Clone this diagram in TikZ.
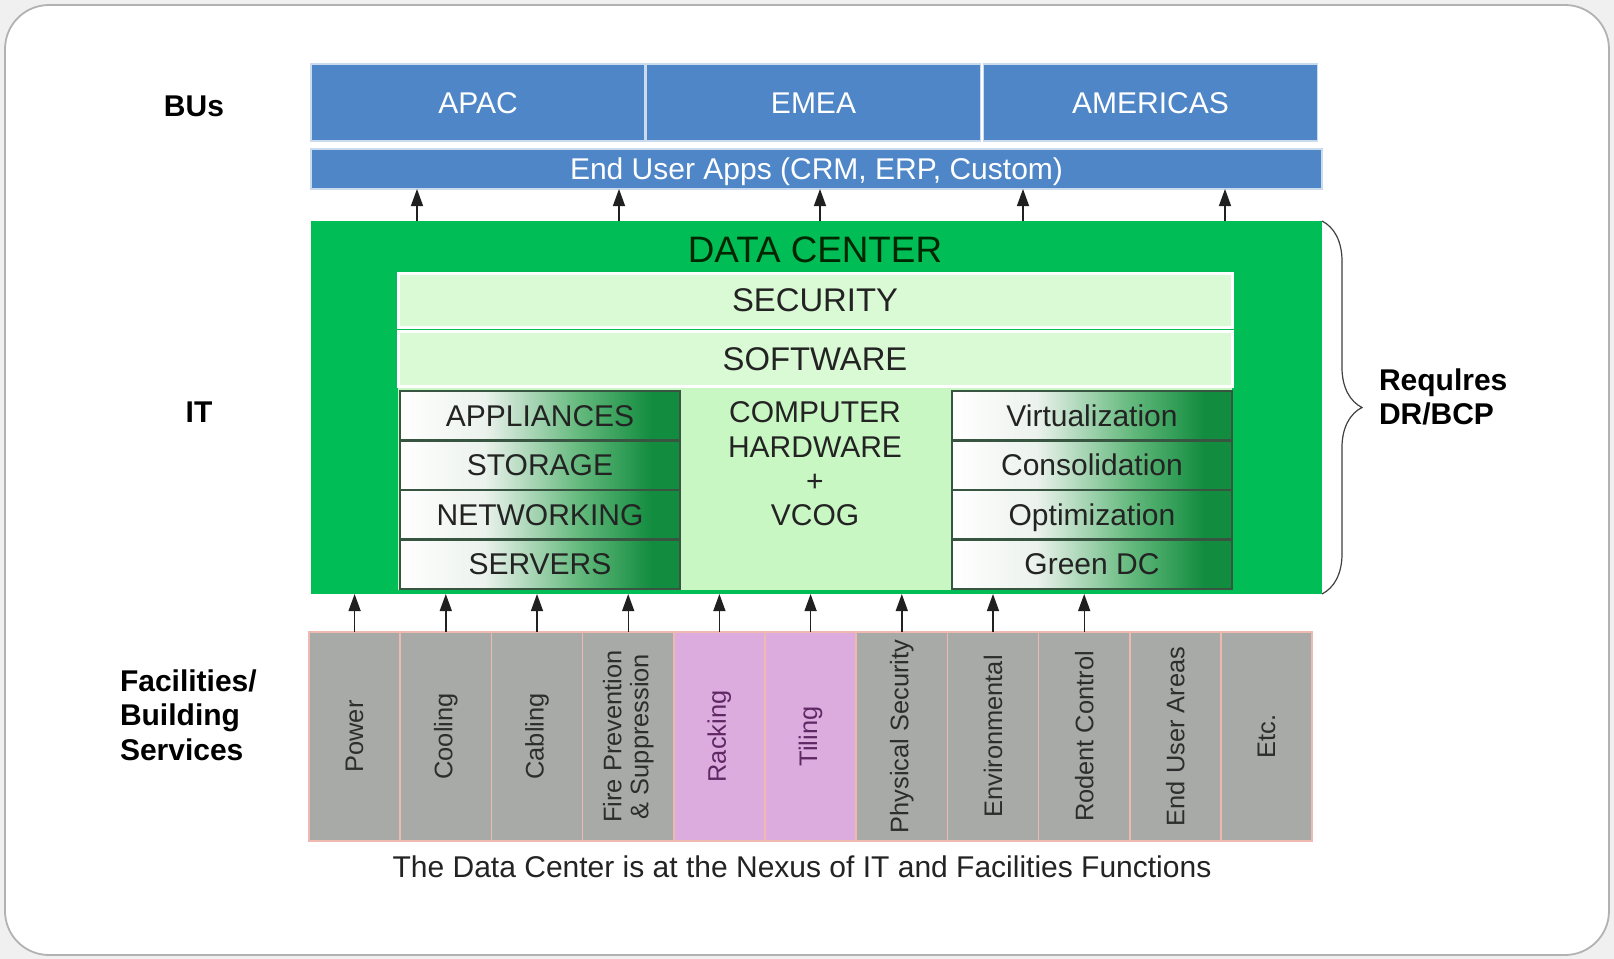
\documentclass[tikz,border=0pt]{standalone}
\usepackage{fontspec}
\setmainfont{Liberation Sans}
\usetikzlibrary{arrows.meta,decorations.pathreplacing}

\definecolor{bublue}{RGB}{79,134,200}
\definecolor{dcgreen}{RGB}{0,190,85}
\definecolor{palegreen}{RGB}{218,250,213}
\definecolor{midgreen}{RGB}{200,247,195}
\definecolor{cellpale}{RGB}{236,242,237}
\definecolor{cellmid}{RGB}{100,185,125}
\definecolor{celldark}{RGB}{18,140,62}
\definecolor{cellline}{RGB}{55,85,65}
\definecolor{facgray}{RGB}{168,170,168}
\definecolor{facpink}{RGB}{220,172,222}
\definecolor{facline}{RGB}{240,185,175}
\definecolor{facdark}{RGB}{45,45,45}
\definecolor{facpurple}{RGB}{95,40,100}
\definecolor{textdark}{RGB}{35,35,35}

\pgfdeclarehorizontalshading{cellfade}{100bp}{color(0bp)=(white); color(25bp)=(white); color(40bp)=(cellpale); color(57bp)=(cellmid); color(70bp)=(celldark); color(100bp)=(celldark)}

\newcommand{\bodyfont}{\fontsize{15}{17.2}\selectfont}
\newcommand{\barfont}{\fontsize{16.4}{18}\selectfont}
\newcommand{\facfont}{\fontsize{12.7}{13.5}\selectfont}

\begin{document}
\begin{tikzpicture}[x=0.5pt,y=-0.5pt,
    every node/.style={inner sep=0pt, outer sep=0pt},
    bu/.style={fill=bublue, draw=white!70!bublue, line width=0.8pt, text=white,
      minimum width=167pt, minimum height=38.5pt, font=\bodyfont, text height=10.7pt, text depth=0pt},
    bar/.style={fill=palegreen, draw=white, line width=1.5pt, minimum width=417pt,
      text=textdark, font=\barfont, text height=11.7pt, text depth=0pt},
    cell/.style={shading=cellfade, draw=cellline, line width=1.1pt, minimum width=140pt,
      minimum height=24.75pt, text=textdark, font=\bodyfont, text height=10.7pt, text depth=0pt},
    grayfac/.style={fill=facgray, draw=facline, line width=0.8pt, minimum width=45.6pt, minimum height=104.5pt},
    pinkfac/.style={grayfac, fill=facpink},
    grayfac text/.style={rotate=90, align=center, font=\facfont, text=facdark},
    pinkfac text/.style={grayfac text, text=facpurple},
    sidelbl/.style={font=\bodyfont\bfseries, text=black},
    uparrow/.style={draw=gray!25!black, line width=0.7pt, -{Triangle[length=8.5pt,width=6pt]}},
    brace/.style={draw=gray!50!black, line width=0.6pt, decorate, decoration={brace, amplitude=20pt}}
  ]
  \useasboundingbox (0,0) rectangle (1614,959);

  % Frame
  \fill[gray!12] (0,0) rectangle (1614,959);
  \draw[fill=white, draw=gray!60, line width=0.9pt, rounded corners=22pt] (5,5) rectangle (1609,955);

  % Business units
  \node[bu] (apac) at (478,102.5) {APAC};
  \node[bu] (emea) at (813.5,102.5) {EMEA};
  \node[bu] (amer) at (1150.5,102.5) {AMERICAS};
  \node[bu, minimum width=505.5pt, minimum height=20pt] (eua) at (816.5,169) {End User Apps (CRM, ERP, Custom)};

  % Data center
  \node[fill=dcgreen, minimum width=505.5pt, minimum height=186.5pt] (dc) at (816.5,407.5) {};
  \node[font=\fontsize{18.4}{20}\selectfont, text=black!85!green] (dctitle) at (815,250) {DATA CENTER};
  \node[bar, minimum height=27pt] (security) at (815,300) {SECURITY};
  \node[bar, minimum height=27.5pt] (software) at (815,358.5) {SOFTWARE};
  \node[fill=midgreen, minimum width=417pt, minimum height=101pt] (core) at (815,489) {};
  \node[align=center, font=\bodyfont, text=textdark] (hw) at (815,464) {COMPUTER\\HARDWARE\\+\\VCOG};

  \foreach \name/\txt [count=\i from 0] in {appl/APPLIANCES, stor/STORAGE, netw/NETWORKING, serv/SERVERS}
    \node[cell] (\name) at (540,{415.75+49.5*\i}) {\txt};
  \foreach \name/\txt [count=\i from 0] in {virt/Virtualization, cons/Consolidation, opti/Optimization, gdc/Green DC}
    \node[cell] (\name) at (1092,{415.75+49.5*\i}) {\txt};

  % Arrows up to the apps
  \foreach \x in {417,619,820,1023,1225}
    \draw[uparrow] (dc.north -| \x,0) -- (eua.south -| \x,0);

  % Facilities
  \foreach \name/\txt/\kind [count=\i from 0] in {power/Power/grayfac, cool/Cooling/grayfac,
      cabl/Cabling/grayfac, fire/{Fire Prevention\\\& Suppression}/grayfac, rack/Racking/pinkfac,
      tile/Tiling/pinkfac, phys/Physical Security/grayfac, envi/Environmental/grayfac,
      rode/Rodent Control/grayfac, area/End User Areas/grayfac, etc/Etc./grayfac}
  {
    \node[\kind] (\name) at ({354.6+91.2*\i},736.5) {};
    \node[\kind\space text] (\name-t) at (\name) {\txt};
  }
  \foreach \name in {power,cool,cabl,fire,rack,tile,phys,envi,rode}
    \draw[uparrow] (\name.north) -- (\name.north |- dc.south);

  % Side labels
  \node[sidelbl] (bus) at (194,106) {BUs};
  \node[sidelbl] (it) at (199,412) {IT};
  \node[sidelbl, anchor=west, align=left] (facil) at (120,715) {Facilities/\\Building\\Services};

  \draw[brace] (dc.north east) -- (dc.south east);
  \node[sidelbl, anchor=west, align=left] (drbcp) at (1379,397) {Requlres\\DR/BCP};

  \node[font=\bodyfont, text=textdark] (caption) at (802,867) {The Data Center is at the Nexus of IT and Facilities Functions};
\end{tikzpicture}
\end{document}
